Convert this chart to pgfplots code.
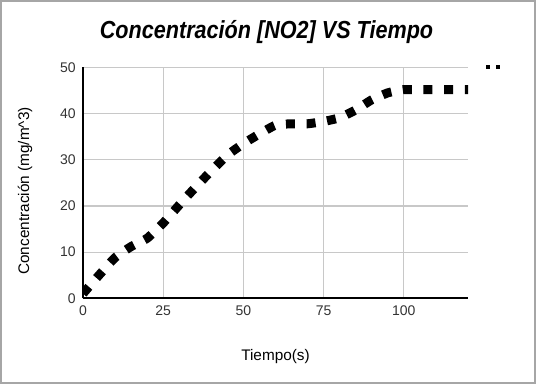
\documentclass[border=0pt]{standalone}
\usepackage{pgfplots}
\pgfplotsset{compat=1.18}
\usepackage{fontspec}
\usepackage{graphicx}
\setmainfont{Liberation Sans}
\usetikzlibrary{calc}
\definecolor{gridc}{HTML}{C8C8C8}
\definecolor{tickc}{HTML}{333333}
\begin{document}
\begin{tikzpicture}
\begin{axis}[
  scale only axis, width=288.75pt, height=173.1pt,
  xmin=0, xmax=120, ymin=0, ymax=50,
  xtick={0,25,50,75,100}, ytick={0,10,20,30,40,50},
  grid=major, grid style={gridc, line width=0.9pt},
  axis x line*=bottom, axis y line*=left,
  axis line style={black, line width=1.5pt, -},
  major tick length=0pt,
  tick label style={font=\fontsize{10.5}{12}\selectfont, text=tickc},
  /pgf/number format/assume math mode=true,
  yticklabel style={xshift=-2pt},
  xticklabel style={yshift=-2pt},
  legend style={at={(rel axis cs:1,1)}, anchor=west, xshift=12pt, draw=none, fill=none, inner sep=0pt},
  legend image code/.code={\draw[black, line width=3pt, dash pattern=on 3pt off 4.5pt] (0pt,0pt) -- (10.5pt,0pt);},
]
\coordinate (SW) at (rel axis cs:0,0);
\coordinate (TM) at (rel axis cs:0.5,1);
\coordinate (LM) at (rel axis cs:0,0.465);
\coordinate (BM) at (rel axis cs:0.5,0);
\addplot[black, line width=6.75pt, dash pattern=on 6.75pt off 8.75pt, smooth, tension=0.3] coordinates {
  (0,1) (5,5) (10,8.8) (15,11.2) (20,13) (25,16.3) (30,20.2) (35,24) (40,27.6) (45,31)
  (50,33.5) (55,35.6) (60,37.5) (65,37.8) (70,37.8) (75,38.3) (80,39.1) (85,40.8)
  (90,43) (95,44.5) (100,45.2) (110,45.2) (120,45.2)
};
\addlegendentry{}
\end{axis}
\node[font=\fontsize{18.5}{22}\selectfont\bfseries\itshape, anchor=base, inner sep=0pt] at ($(TM)+(-6.75pt,22pt)$) {\resizebox{250pt}{\height}{Concentración [NO2] VS Tiempo}};
\node[font=\fontsize{11.5}{13}\selectfont, rotate=90] at ($(LM)+(-43.5pt,0)$) {Concentración (mg/m\textasciicircum 3)};
\node[font=\fontsize{11.5}{13}\selectfont] at ($(BM)+(0,-43.5pt)$) {Tiempo(s)};
\pgfresetboundingbox
\path ($(SW)+(-62.25pt,-64.3pt)$) coordinate (BL) rectangle ++(402pt,288pt) coordinate (TR);
\draw[black!35, line width=1.5pt] ($(BL)+(0.75pt,0.75pt)$) rectangle ($(TR)+(-0.75pt,-0.75pt)$);
\end{tikzpicture}
\end{document}
